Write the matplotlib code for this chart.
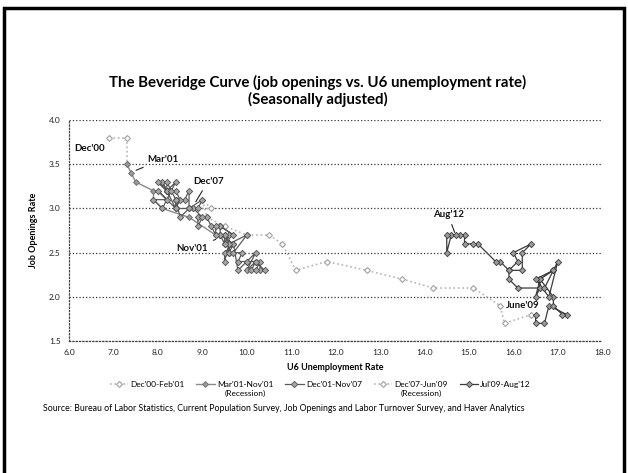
import matplotlib
matplotlib.use("Agg")
import matplotlib.pyplot as plt
from matplotlib.patches import Rectangle

plt.rcParams['font.family'] = ['Lato', 'DejaVu Sans']

# Dec'00 - Feb'01
s1_x = [6.9, 7.3, 7.3]
s1_y = [3.8, 3.8, 3.5]

# Mar'01 - Nov'01 (Recession)
s2_x = [7.3, 7.4, 7.5, 7.9, 7.9, 8.1, 8.7, 9.3, 9.4]
s2_y = [3.5, 3.4, 3.3, 3.2, 3.1, 3.0, 2.9, 2.7, 2.7]

# Dec'01 - Nov'07
s3_x = [9.6,
        9.5, 9.5, 9.4, 9.7, 9.5, 9.5, 9.6, 9.6, 9.6, 9.6, 9.7, 9.8,
        10.0, 10.2, 10.0, 10.2, 10.1, 10.3, 10.3, 10.2, 10.4, 10.2, 10.0, 9.8,
        9.9, 9.7, 10.0, 9.6, 9.6, 9.5, 9.5, 9.4, 9.4, 9.7, 9.4, 9.2,
        9.3, 9.3, 9.1, 8.9, 8.9, 9.0, 8.8, 8.9, 9.0, 8.7, 8.7, 8.6,
        8.4, 8.4, 8.2, 8.1, 8.2, 8.4, 8.5, 8.4, 8.0, 8.2, 7.9, 8.1,
        8.4, 8.2, 8.0, 8.2, 8.2, 8.3, 8.4, 8.5, 8.7, 8.4, 8.4]
s3_y = [2.6,
        2.7, 2.6, 2.7, 2.6, 2.5, 2.4, 2.6, 2.5, 2.6, 2.5, 2.6, 2.3,
        2.4, 2.5, 2.3, 2.4, 2.3, 2.3, 2.4, 2.3, 2.3, 2.4, 2.4, 2.4,
        2.5, 2.5, 2.7, 2.6, 2.7, 2.6, 2.7, 2.7, 2.8, 2.7, 2.8, 2.8,
        2.8, 2.7, 2.9, 2.9, 2.8, 2.9, 3.0, 3.0, 3.1, 3.0, 3.2, 3.1,
        3.1, 3.0, 3.2, 3.3, 3.2, 3.2, 3.1, 3.0, 3.2, 3.1, 3.1, 3.0,
        3.3, 3.2, 3.3, 3.2, 3.3, 3.2, 3.1, 2.9, 3.0, 3.0, 3.1]

# Dec'07 - Jun'09 (Recession)
s4_x = [8.8, 9.2, 9.0, 9.1, 9.5, 10.0, 10.5, 10.8, 11.1, 11.8, 12.7, 13.5,
        14.2, 15.1, 15.7, 15.8, 16.4]
s4_y = [3.0, 3.0, 3.1, 2.9, 2.8, 2.7, 2.7, 2.6, 2.3, 2.4, 2.3, 2.2,
        2.1, 2.1, 1.9, 1.7, 1.8]

# Jul'09 - Aug'12
s5_x = [16.5, 16.5, 16.7, 16.8, 17.2, 17.1,
        16.9, 16.9, 16.6, 16.5, 16.6, 16.6, 16.9, 17.0, 16.8, 16.5, 16.9, 16.7,
        16.1, 15.9, 15.9, 16.2, 16.2, 16.4, 16.0, 16.1, 15.9, 15.7, 15.6, 15.2,
        15.1, 14.9, 14.9, 14.6, 14.5, 14.5, 14.8, 14.7]
s5_y = [1.8, 1.7, 1.7, 1.9, 1.8, 1.8,
        1.9, 2.0, 2.2, 2.0, 2.1, 2.2, 2.3, 2.4, 2.0, 2.2, 2.3, 2.1,
        2.1, 2.2, 2.3, 2.3, 2.5, 2.6, 2.5, 2.4, 2.3, 2.4, 2.4, 2.6,
        2.6, 2.6, 2.7, 2.7, 2.5, 2.7, 2.7, 2.7]

labels = ["Dec'00-Feb'01", "Mar'01-Nov'01", "Dec'01-Nov'07",
          "Dec'07-Jun'09", "Jul'09-Aug'12"]
sublabels = ["", "(Recession)", "", "(Recession)", ""]

xticks = [6.0, 7.0, 8.0, 9.0, 10.0, 11.0, 12.0, 13.0, 14.0, 15.0, 16.0, 17.0, 18.0]
yticks = [1.5, 2.0, 2.5, 3.0, 3.5, 4.0]

fig = plt.figure(figsize=(6.28, 4.73), dpi=100)
fig.patches.append(Rectangle((0.006, -0.05), 0.988, 1.033, transform=fig.transFigure,
                             fill=False, edgecolor='black', linewidth=2.5))

ax = fig.add_axes([0.110, 0.279, 0.849, 0.467])

light = dict(color='#b5b5b5', linestyle=':', linewidth=1.2, marker='D',
             markersize=3.0, markerfacecolor='white', markeredgecolor='#a0a0a0',
             markeredgewidth=0.8, zorder=3)
h1, = ax.plot(s1_x, s1_y, label=labels[0], **light)
h4, = ax.plot(s4_x, s4_y, label=labels[3], **light)
h2, = ax.plot(s2_x, s2_y, color='#8a8a8a', linestyle='-', linewidth=1.0, marker='D',
              markersize=3.0, markerfacecolor='#9a9a9a', markeredgecolor='#6a6a6a',
              markeredgewidth=0.6, label=labels[1], zorder=4)
h3, = ax.plot(s3_x, s3_y, color='#5a5a5a', linestyle='-', linewidth=0.9, marker='D',
              markersize=3.2, markerfacecolor='#a5a5a5', markeredgecolor='#505050',
              markeredgewidth=0.6, label=labels[2], zorder=4)
h5, = ax.plot(s5_x, s5_y, color='#3c3c3c', linestyle='-', linewidth=0.9, marker='D',
              markersize=3.2, markerfacecolor='#9a9a9a', markeredgecolor='#3a3a3a',
              markeredgewidth=0.6, label=labels[4], zorder=5)

ax.set_xlim(6.0, 18.0)
ax.set_ylim(1.5, 4.0)
ax.set_xticks(xticks)
ax.set_yticks(yticks)
ax.set_xticklabels([f"{v:.1f}" for v in xticks])
ax.set_yticklabels([f"{v:.1f}" for v in yticks])
ax.tick_params(axis='both', length=0, labelsize=6, colors='#222222', pad=6)

for s in ['top', 'right']:
    ax.spines[s].set_visible(False)
for s in ['left', 'bottom']:
    ax.spines[s].set_linestyle(':')
    ax.spines[s].set_linewidth(0.9)
    ax.spines[s].set_color('#444444')
ax.yaxis.grid(True, linestyle=':', linewidth=0.9, color='#333333')
ax.set_axisbelow(True)

ax.set_xlabel('U6 Unemployment Rate', fontsize=6.5, fontweight='bold', labelpad=5)
ax.set_ylabel('Job Openings Rate', fontsize=6.5, fontweight='bold', labelpad=8)

ann = dict(fontsize=7, fontweight='bold', color='#111111')
arrow = dict(arrowstyle='-', color='#222222', linewidth=0.8)
ax.text(6.45, 3.68, "Dec'00", ha='center', va='center', **ann)
ax.annotate("Mar'01", xy=(7.45, 3.42), xytext=(8.12, 3.56), ha='center', va='center',
            arrowprops=arrow, **ann)
ax.annotate("Dec'07", xy=(8.82, 3.05), xytext=(9.13, 3.31), ha='center', va='center',
            arrowprops=arrow, **ann)
ax.annotate("Nov'01", xy=(9.3, 2.65), xytext=(8.77, 2.55), ha='center', va='center',
            arrowprops=arrow, **ann)
ax.annotate("Aug'12", xy=(14.7, 2.7), xytext=(14.53, 2.93), ha='center', va='center',
            arrowprops=arrow, **ann)
ax.text(16.2, 1.90, "June'09", ha='center', va='center', **ann)

fig.text(0.506, 0.825, "The Beveridge Curve (job openings vs. U6 unemployment rate)",
         ha='center', va='center', fontsize=10.8, fontweight='bold')
fig.text(0.506, 0.789, "(Seasonally adjusted)", ha='center', va='center',
         fontsize=10.8, fontweight='bold')

leg = fig.legend([h1, h2, h3, h4, h5], labels,
                 loc='center', bbox_to_anchor=(0.510, 0.188), ncol=5, frameon=False,
                 fontsize=6, handlelength=2.2, columnspacing=1.4, handletextpad=0.3)

fig.canvas.draw()
renderer = fig.canvas.get_renderer()
inv = fig.transFigure.inverted()
for t, sub in zip(leg.get_texts(), sublabels):
    if sub:
        bb = t.get_window_extent(renderer)
        (x0, y0), (x1, y1) = inv.transform([(bb.x0, bb.y0), (bb.x1, bb.y1)])
        fig.text((x0 + x1) / 2, y0 - 0.004, sub, ha='center', va='top', fontsize=6)

fig.text(0.068, 0.137, "Source: Bureau of Labor Statistics, Current Population Survey, "
         "Job Openings and Labor Turnover Survey, and Haver Analytics",
         ha='left', va='center', fontsize=6.3)

fig.savefig('out.png', dpi=100, facecolor='white')
